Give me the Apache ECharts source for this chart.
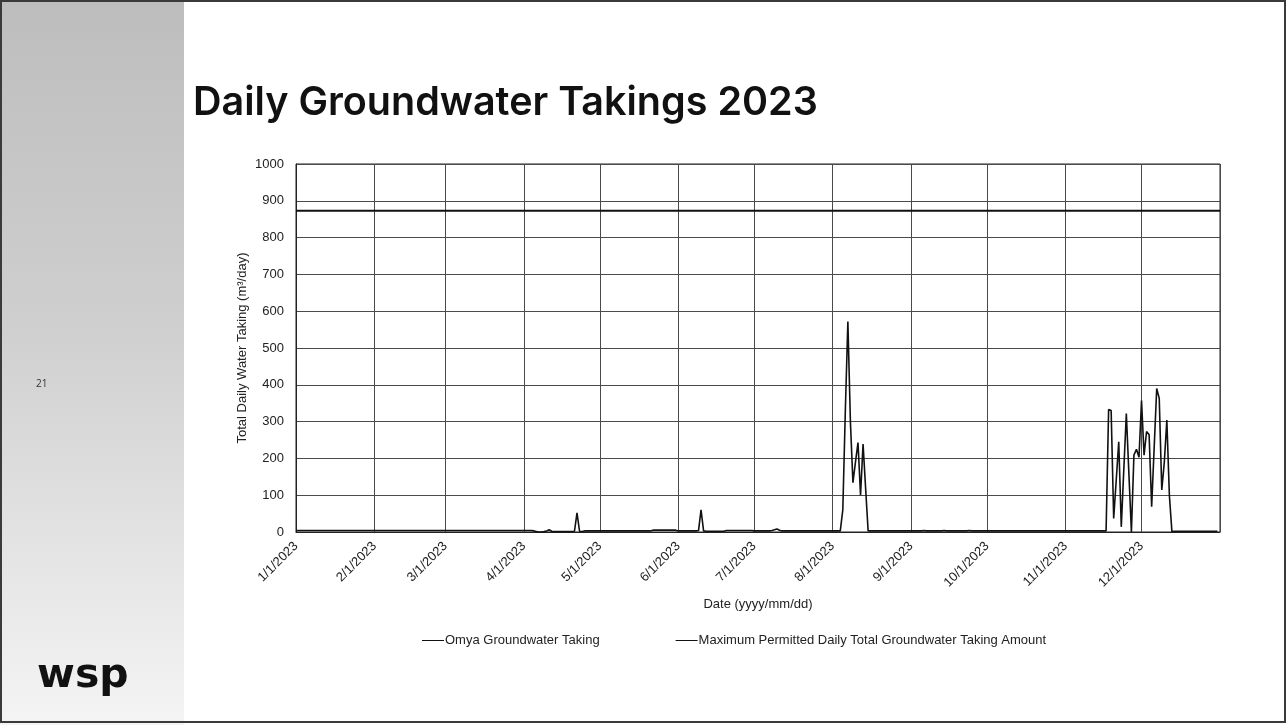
<!DOCTYPE html>
<html>
<head>
<meta charset="utf-8">
<script src="https://cdn.jsdelivr.net/npm/echarts@6/dist/echarts.min.js"></script>
<style>
  html, body { margin: 0; padding: 0; background: #ffffff; }
  #chart { width: 1288px; height: 725px; }
</style>
</head>
<body>
<div id="chart"></div>
<script>
// Daily groundwater taking (m³/day), one value per day of each month of 2023
const jan = [4,4,4,4,4,4,4,4,4,4,4,4,4,4,4,4,4,4,4,4,4,4,4,4,4,4,4,4,4,4,4];
const feb = [4,4,4,4,4,4,4,4,4,4,4,4,4,4,4,4,4,4,4,4,4,4,4,4,4,4,4,4];
const mar = [4,4,4,4,4,4,4,4,4,4,4,4,4,4,4,4,4,4,4,4,4,4,4,4,4,4,4,4,4,4,4];
const apr = [4,4,4,4,3,1,0,0,1,3,6,2,1,1,1,1,1,1,1,1,2,52,2,1,3,3,3,3,3,3];
const may = [3,3,3,3,3,3,3,3,3,3,3,3,3,3,3,3,3,3,3,3,3,5,5,5,5,5,5,5,5,5,5];
const jun = [3,3,3,3,3,3,3,3,4,60,3,2,2,2,2,2,2,2,2,4,4,4,4,4,4,4,4,4,4,4];
const jul = [3,3,3,3,3,3,3,4,6,8,5,3,3,3,3,3,3,3,3,3,3,3,3,3,3,3,3,3,3,3,3];
const aug = [3,3,3,3,60,330,572,300,134,190,243,100,239,120,3,3,3,3,3,3,3,3,3,3,3,3,3,3,3,3,3];
const sep = [3,3,3,3,3,4,3,3,3,3,3,3,3,4,3,3,3,3,3,3,3,3,3,4,3,3,3,3,3,3];
const oct = [3,3,3,3,3,3,3,3,3,3,3,3,3,3,3,3,3,3,3,3,3,3,3,3,3,3,3,3,3,3,3];
const nov = [3,3,3,3,3,3,3,3,3,3,3,3,3,3,3,3,3,333,330,37,140,245,14,170,322,160,0,209,225,203];
const dec = [357,209,273,264,69,230,390,363,114,190,304,100,1,2,2,2,2,2,2,2,2,2,2,2,2,2,2,2,2,2,2];

// Permit limit (m³/day)
const maxPermitted = 873;

const yearStart = '2023-01-01';
const yearEnd = '2024-01-01';
const seriesNames = ['Omya Groundwater Taking', 'Maximum Permitted Daily Total Groundwater Taking Amount'];

const months = [jan, feb, mar, apr, may, jun, jul, aug, sep, oct, nov, dec];
const pad = n => (n < 10 ? '0' + n : '' + n);
const takings = [];
months.forEach((vals, m) => {
  vals.forEach((v, i) => {
    takings.push(['2023-' + pad(m + 1) + '-' + pad(i + 1), v]);
  });
});
const limitLine = [[yearStart, maxPermitted], [yearEnd, maxPermitted]];

const DAY = 24 * 3600 * 1000;
const axisFont = '"Liberation Sans", Arial, sans-serif';

const chart = echarts.init(document.getElementById('chart'), null, { renderer: 'canvas' });

chart.setOption({
  backgroundColor: '#ffffff',
  animation: false,
  graphic: [
    // grey side panel
    {
      type: 'rect', z: -10, silent: true,
      shape: { x: 0, y: 0, width: 184, height: 725 },
      style: {
        fill: new echarts.graphic.LinearGradient(0, 0, 0, 1, [
          { offset: 0, color: '#bdbdbd' },
          { offset: 0.45, color: '#cfcfcf' },
          { offset: 1, color: '#f4f4f4' }
        ])
      }
    },
    // slide frame
    {
      type: 'rect', z: 100, silent: true,
      shape: { x: 1, y: 1, width: 1284, height: 721 },
      style: { fill: 'none', stroke: '#3a3a3a', lineWidth: 2 }
    },
    // page number
    {
      type: 'text', left: 36, top: 379,
      style: { text: '21', font: '10px "Open Sans", sans-serif', fill: '#333' }
    },
    // logo
    {
      type: 'text', left: 37, top: 656,
      style: { text: 'wsp', font: 'bold 41px "DejaVu Sans", sans-serif', fill: '#111' }
    },
    // title
    {
      type: 'text', left: 193, top: 83,
      style: { text: 'Daily Groundwater Takings 2023', font: '600 39.5px Inter, sans-serif', fill: '#111' }
    }
  ],
  legend: {
    left: 422, top: 634, padding: 0,
    itemWidth: 22, itemHeight: 10, itemGap: 76,
    icon: 'path://M0,4.5 L22,4.5 L22,5.5 L0,5.5 Z',
    textStyle: { fontFamily: axisFont, fontSize: 13, color: '#222', padding: [0, 0, 0, -4] },
    data: seriesNames
  },
  grid: {
    left: 296, right: 68, top: 164, bottom: 193,
    show: true, borderColor: '#222', borderWidth: 1, backgroundColor: 'transparent'
  },
  xAxis: {
    type: 'time',
    min: yearStart,
    max: yearEnd,
    minInterval: 28 * DAY,
    maxInterval: 31 * DAY,
    splitNumber: 12,
    name: 'Date (yyyy/mm/dd)',
    nameLocation: 'middle',
    nameGap: 66,
    nameMoveOverlap: false,
    nameTextStyle: { fontFamily: axisFont, fontSize: 13, color: '#222' },
    axisLine: { show: true, lineStyle: { color: '#222', width: 1 } },
    axisTick: { show: false },
    splitLine: { show: true, lineStyle: { color: '#4a4a4a', width: 1 } },
    axisLabel: {
      rotate: 45,
      margin: 12,
      showMaxLabel: false,
      fontFamily: axisFont, fontSize: 13, color: '#222',
      formatter: function (val) {
        const d = new Date(val);
        return (d.getMonth() + 1) + '/' + d.getDate() + '/' + d.getFullYear();
      }
    }
  },
  yAxis: {
    type: 'value',
    min: 0, max: 1000, interval: 100,
    name: 'Total Daily Water Taking (m³/day)',
    nameLocation: 'middle',
    nameGap: 47,
    nameMoveOverlap: false,
    nameRotate: 90,
    nameTextStyle: { fontFamily: axisFont, fontSize: 13, color: '#222' },
    axisLine: { show: true, lineStyle: { color: '#222' } },
    axisTick: { show: false },
    splitLine: { show: true, lineStyle: { color: '#4a4a4a', width: 1 } },
    axisLabel: {
      fontFamily: axisFont, fontSize: 13, color: '#222', margin: 12,
      formatter: function (v) { return String(v); }
    }
  },
  series: [
    {
      name: seriesNames[0],
      type: 'line',
      data: takings,
      symbol: 'none',
      lineStyle: { color: '#111', width: 1.6 },
      itemStyle: { color: '#111' },
      z: 3
    },
    {
      name: seriesNames[1],
      type: 'line',
      data: limitLine,
      symbol: 'none',
      lineStyle: { color: '#111', width: 2 },
      itemStyle: { color: '#111' },
      z: 2
    }
  ]
});
</script>
</body>
</html>
